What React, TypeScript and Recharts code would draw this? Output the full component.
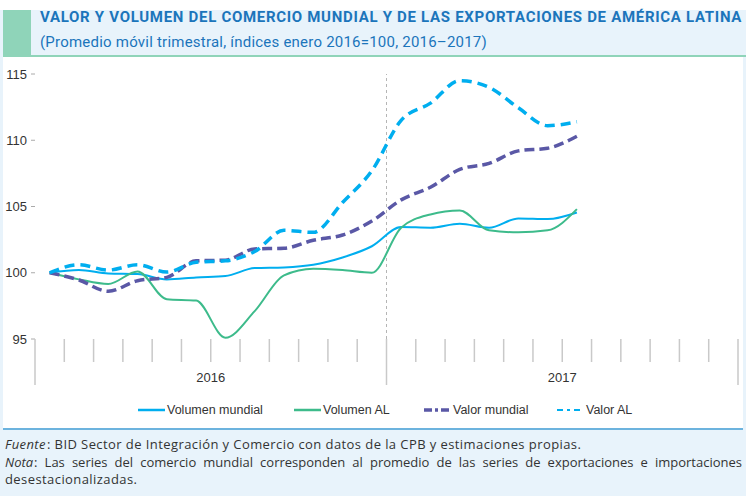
import { LineChart, Line, XAxis, YAxis, ReferenceLine, Legend } from 'recharts'

// meses con dato: enero 2016 a julio 2017 (índice enero 2016 = 100)
const months = [
  'ene-16', 'feb-16', 'mar-16', 'abr-16', 'may-16', 'jun-16', 'jul-16', 'ago-16', 'sep-16', 'oct-16', 'nov-16', 'dic-16',
  'ene-17', 'feb-17', 'mar-17', 'abr-17', 'may-17', 'jun-17', 'jul-17',
]
const volumenMundial = [100, 100.2, 99.95, 99.9, 99.5, 99.65, 99.75, 100.35, 100.4, 100.6, 101.15, 102.0, 103.45, 103.4, 103.7, 103.4, 104.1, 104.05, 104.55]
const volumenAL = [100, 99.5, 99.15, 100.1, 98.0, 97.9, 95.1, 97.1, 99.8, 100.3, 100.2, 100.0, 103.4, 104.4, 104.7, 103.2, 103.05, 103.2, 104.8]
const valorMundial = [100, 99.45, 98.6, 99.4, 99.65, 100.9, 100.95, 101.8, 101.85, 102.45, 102.85, 103.9, 105.5, 106.45, 107.8, 108.25, 109.2, 109.4, 110.3]
const valorAL = [100, 100.6, 100.2, 100.6, 100.05, 100.8, 100.9, 101.6, 103.2, 103.05, 105.3, 107.7, 111.5, 112.8, 114.5, 114.0, 112.45, 111.1, 111.4]

const yTicks = [95, 100, 105, 110, 115]
const monthBounds = Array.from({ length: 25 }, (_, i) => i)
const yearLabels: Record<number, string> = { 6: '2016', 18: '2017' }

const data = months.map((m, i) => ({
  mes: m,
  x: i + 0.5,
  volumenMundial: volumenMundial[i],
  volumenAL: volumenAL[i],
  valorMundial: valorMundial[i],
  valorAL: valorAL[i],
}))

const BLUE = '#00aeef'
const GREEN = '#3dbb8b'
const PURPLE = '#5a58a6'
const font = "'Liberation Sans', Arial, sans-serif"

function MonthTick(props: any) {
  const { x, y, payload } = props
  const v = payload.value
  const long = v % 12 === 0
  return (
    <g>
      <line x1={x} x2={x} y1={y} y2={y + (long ? 46 : 23)} stroke="#c9c9c9" strokeWidth={1.5} />
      {yearLabels[v] && (
        <text x={x} y={y + 43} textAnchor="middle" fontSize={13} fill="#333" fontFamily={font}>
          {yearLabels[v]}
        </text>
      )}
    </g>
  )
}

const legendItems = [
  { label: 'Volumen mundial', color: BLUE, dash: undefined, width: 2.5, left: 138 },
  { label: 'Volumen AL', color: GREEN, dash: undefined, width: 2.5, left: 294 },
  { label: 'Valor mundial', color: PURPLE, dash: '8 3 3 3', width: 3.5, left: 424 },
  { label: 'Valor AL', color: BLUE, dash: '6 4 3 4', width: 2, left: 557 },
]

function ChartLegend() {
  return (
    <div style={{ position: 'relative', width: 746, height: 24 }}>
      {legendItems.map((it) => (
        <div
          key={it.label}
          style={{ position: 'absolute', left: it.left, top: 14, display: 'flex', alignItems: 'center', fontFamily: font, fontSize: 12.5, color: '#333' }}
        >
          <svg width={28} height={10}>
            <line x1={0} x2={27} y1={5} y2={5} stroke={it.color} strokeWidth={it.width} strokeDasharray={it.dash} />
          </svg>
          <span style={{ marginLeft: 1 }}>{it.label}</span>
        </div>
      ))}
    </div>
  )
}

const footFont = "'Open Sans', sans-serif"

export default function App() {
  return (
    <div style={{ position: 'absolute', left: 0, top: 0, width: 746, height: 496, background: '#e8f3fb', overflow: 'hidden' }}>
      <div style={{ position: 'absolute', left: 0, top: 0, width: 746, height: 10, background: '#ffffff' }} />
      <div style={{ position: 'absolute', left: 3, top: 10, width: 28, height: 45, background: '#8fd4b9' }} />
      <div style={{ position: 'absolute', left: 3, top: 55, width: 743, height: 2, background: '#8fd4b9' }} />
      <div style={{ position: 'absolute', left: 3, top: 57, width: 740, height: 371, background: '#ffffff' }} />
      <div style={{ position: 'absolute', left: 3, top: 428, width: 740, height: 2, background: '#6cb3de' }} />
      <div
        style={{ position: 'absolute', left: 40, top: 7, fontFamily: 'Roboto, sans-serif', fontWeight: 700, fontSize: 15, letterSpacing: 0.7, color: '#1b75bb', whiteSpace: 'nowrap', lineHeight: '20px' }}
      >
        VALOR Y VOLUMEN DEL COMERCIO MUNDIAL Y DE LAS EXPORTACIONES DE AMÉRICA LATINA
      </div>
      <div
        style={{ position: 'absolute', left: 40, top: 32, fontFamily: 'Roboto, sans-serif', fontSize: 15, letterSpacing: 0.22, color: '#1b75bb', whiteSpace: 'nowrap', lineHeight: '20px' }}
      >
        (Promedio móvil trimestral, índices enero 2016=100, 2016–2017)
      </div>
      <div style={{ position: 'absolute', left: 0, top: 0 }}>
        <LineChart width={746} height={430} data={data} margin={{ top: 74, right: 8, bottom: 17, left: 0 }}>
          <XAxis
            dataKey="x"
            type="number"
            domain={[0, 24]}
            ticks={monthBounds}
            interval={0}
            tickLine={false}
            axisLine={false}
            tickSize={0}
            tickMargin={0}
            height={50}
            tick={<MonthTick />}
          />
          <YAxis
            domain={[95, 115]}
            ticks={yTicks}
            width={35}
            axisLine={false}
            tickLine={{ stroke: '#aaa' }}
            tickSize={4}
            tickMargin={4}
            tick={{ fontSize: 13, fill: '#333', fontFamily: font }}
          />
          <ReferenceLine x={12} stroke="#b5b5b5" strokeDasharray="3 3" />
          <Legend verticalAlign="bottom" height={24} content={<ChartLegend />} wrapperStyle={{ left: 0, width: 746 }} />
          <Line type="monotone" dataKey="volumenMundial" name="Volumen mundial" stroke={BLUE} strokeWidth={2} dot={false} isAnimationActive={false} />
          <Line type="monotone" dataKey="volumenAL" name="Volumen AL" stroke={GREEN} strokeWidth={2} dot={false} isAnimationActive={false} />
          <Line type="monotone" dataKey="valorMundial" name="Valor mundial" stroke={PURPLE} strokeWidth={3.5} strokeDasharray="10 5" dot={false} isAnimationActive={false} />
          <Line type="monotone" dataKey="valorAL" name="Valor AL" stroke={BLUE} strokeWidth={3.5} strokeDasharray="10 6" dot={false} isAnimationActive={false} />
        </LineChart>
      </div>
      <div
        style={{ position: 'absolute', left: 5, top: 436, width: 737, fontFamily: footFont, fontSize: 13, letterSpacing: 0.42, color: '#333', lineHeight: '17.5px' }}
      >
        <div>
          <i style={{ paddingRight: 1 }}>Fuente</i>: BID Sector de Integración y Comercio con datos de la CPB y estimaciones propias.
        </div>
        <div style={{ textAlign: 'justify', textAlignLast: 'justify', whiteSpace: 'nowrap', letterSpacing: 0 }}>
          <i style={{ paddingRight: 1 }}>Nota</i>: Las series del comercio mundial corresponden al promedio de las series de exportaciones e importaciones
        </div>
        <div>desestacionalizadas.</div>
      </div>
    </div>
  )
}
